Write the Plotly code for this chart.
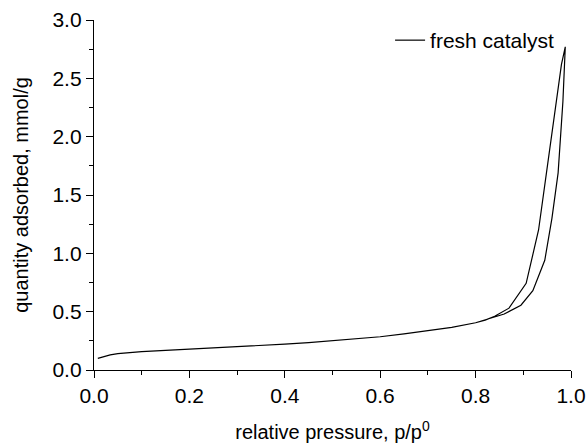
import plotly.graph_objects as go

# Adsorption branch (relative pressure, quantity adsorbed mmol/g)
ads_p = [0.008, 0.02, 0.034, 0.05, 0.07, 0.1, 0.15, 0.2, 0.25, 0.3, 0.35, 0.4,
         0.45, 0.5, 0.55, 0.6, 0.65, 0.7, 0.75, 0.8, 0.83, 0.86, 0.895, 0.92,
         0.945, 0.96, 0.973, 0.983, 0.988]
ads_q = [0.10, 0.115, 0.13, 0.14, 0.148, 0.158, 0.168, 0.178, 0.188, 0.198, 0.21,
         0.222, 0.235, 0.25, 0.265, 0.285, 0.31, 0.335, 0.365, 0.405, 0.44, 0.48,
         0.555, 0.68, 0.94, 1.3, 1.69, 2.3, 2.77]

# Desorption branch
des_p = [0.988, 0.98, 0.956, 0.932, 0.906, 0.87, 0.84, 0.82, 0.8]
des_q = [2.77, 2.62, 1.91, 1.2, 0.743, 0.53, 0.46, 0.428, 0.405]

line_p = ads_p + des_p[1:]
line_q = ads_q + des_q[1:]

FONT = "Liberation Sans, Arial, sans-serif"

fig = go.Figure()
fig.add_trace(go.Scatter(x=line_p, y=line_q, mode="lines", name="fresh catalyst",
                         line=dict(color="black", width=1.2)))

axis_common = dict(showline=True, linecolor="black", linewidth=1.3, showgrid=False,
                   zeroline=False, ticks="outside", ticklen=7, tickwidth=1.3, automargin=False,
                   tickcolor="black", tickfont=dict(family=FONT, size=21, color="black"))

fig.update_layout(
    width=586, height=443,
    margin=dict(l=94, r=15, t=20, b=73),
    paper_bgcolor="white", plot_bgcolor="white",
    font=dict(family=FONT, size=20, color="black"),
    xaxis=dict(range=[0, 1], dtick=0.2, tickformat=".1f",
               minor=dict(dtick=0.1, ticks="outside", ticklen=4, tickwidth=1.3, tickcolor="black"),
               title=dict(text="relative pressure, p/p<sup>0</sup>", font=dict(family=FONT, size=20), standoff=28),
               **axis_common),
    yaxis=dict(range=[0, 3], dtick=0.5, tickformat=".1f",
               minor=dict(dtick=0.25, ticks="outside", ticklen=4, tickwidth=1.3, tickcolor="black"),
               title=dict(text="quantity adsorbed, mmol/g", font=dict(family=FONT, size=20), standoff=18),
               **axis_common),
    xaxis2=dict(range=[0, 1], overlaying="x", side="top", showline=True, linecolor="black",
                linewidth=1.3, showgrid=False, zeroline=False, ticks="inside", ticklen=5,
                tickwidth=1.3, tickcolor="black", dtick=0.2, showticklabels=False, automargin=False,
                minor=dict(dtick=0.1, ticks="inside", ticklen=3, tickwidth=1.3, tickcolor="black")),
    yaxis2=dict(range=[0, 3], overlaying="y", side="right", showline=True, linecolor="black",
                linewidth=1.3, showgrid=False, zeroline=False, ticks="inside", ticklen=5,
                tickwidth=1.3, tickcolor="black", dtick=0.5, showticklabels=False, automargin=False,
                minor=dict(dtick=0.25, ticks="inside", ticklen=3, tickwidth=1.3, tickcolor="black")),
    showlegend=True,
    legend=dict(x=0.975, xanchor="right", y=1.0, yanchor="top", bgcolor="rgba(0,0,0,0)",
                font=dict(family=FONT, size=21, color="black"), borderwidth=0),
)

fig.write_html("out.html")
